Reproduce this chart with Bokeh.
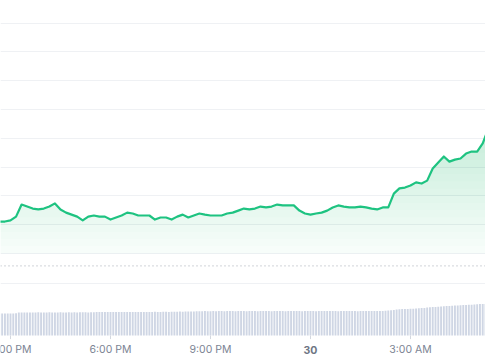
import numpy as np
from bokeh.plotting import figure
from bokeh.models import Range1d, Grid, FixedTicker, Span, ColumnDataSource
from bokeh.core.properties import value
from bokeh.embed import file_html
from bokeh.resources import INLINE

# ---------------- data ----------------
# price samples every 10 minutes, starting 14:40 on the 29th (hours since 29th 00:00)
price_start_h = 14 + 40 / 60
price_step_h = 10 / 60
price = [
    61.11, 61.11, 61.15, 61.28, 61.70, 61.63, 61.56, 61.53, 61.56, 61.63,
    61.74, 61.53, 61.42, 61.35, 61.28, 61.15, 61.28, 61.32, 61.28, 61.28,
    61.18, 61.25, 61.32, 61.42, 61.39, 61.32, 61.32, 61.32, 61.18, 61.25,
    61.25, 61.18, 61.28, 61.35, 61.25, 61.32, 61.39, 61.35, 61.32, 61.32,
    61.32, 61.39, 61.42, 61.49, 61.56, 61.53, 61.56, 61.63, 61.60, 61.63,
    61.70, 61.67, 61.67, 61.67, 61.49, 61.39, 61.35, 61.39, 61.42, 61.49,
    61.60, 61.67, 61.63, 61.60, 61.60, 61.63, 61.60, 61.56, 61.53, 61.60,
    61.60, 62.08, 62.26, 62.29, 62.36, 62.47, 62.43, 62.53, 62.95, 63.16,
    63.37, 63.19, 63.26, 63.30, 63.47, 63.54, 63.54, 63.82, 64.34,
]

# volume samples every 5 minutes, same start (billions)
vol_step_h = 5 / 60
volume = [
    1.10, 1.10, 1.10, 1.10, 1.10, 1.10, 1.11, 1.15, 1.15, 1.15, 1.15, 1.15,
    1.15, 1.15, 1.16, 1.15, 1.15, 1.15, 1.16, 1.15, 1.15, 1.15, 1.16, 1.15,
    1.15, 1.16, 1.15, 1.16, 1.15, 1.16, 1.16, 1.16, 1.15, 1.16, 1.16, 1.17,
    1.17, 1.17, 1.18, 1.17, 1.17, 1.18, 1.17, 1.18, 1.18, 1.17, 1.18, 1.18,
    1.18, 1.17, 1.18, 1.18, 1.18, 1.17, 1.18, 1.18, 1.19, 1.18, 1.18, 1.19,
    1.19, 1.18, 1.19, 1.19, 1.19, 1.20, 1.19, 1.20, 1.20, 1.20, 1.20, 1.21,
    1.21, 1.21, 1.22, 1.21, 1.21, 1.22, 1.21, 1.22, 1.22, 1.21, 1.22, 1.22,
    1.22, 1.21, 1.22, 1.22, 1.22, 1.21, 1.22, 1.22, 1.22, 1.21, 1.22, 1.22,
    1.22, 1.22, 1.21, 1.22, 1.22, 1.22, 1.22, 1.21, 1.22, 1.22, 1.22, 1.22,
    1.22, 1.21, 1.22, 1.22, 1.22, 1.22, 1.21, 1.22, 1.22, 1.22, 1.22, 1.22,
    1.22, 1.22, 1.21, 1.22, 1.22, 1.22, 1.22, 1.22, 1.22, 1.21, 1.22, 1.22,
    1.22, 1.22, 1.22, 1.22, 1.23, 1.23, 1.23, 1.24, 1.25, 1.26, 1.28, 1.30,
    1.31, 1.32, 1.33, 1.33, 1.34, 1.34, 1.35, 1.36, 1.37, 1.38, 1.40, 1.41,
    1.42, 1.43, 1.44, 1.45, 1.46, 1.47, 1.48, 1.49, 1.50, 1.50, 1.51, 1.52,
    1.53, 1.54, 1.54, 1.55, 1.56, 1.57, 1.57, 1.58, 1.59,
]

tick_hours = [15, 18, 21, 24, 27]
tick_labels = ["3:00 PM", "6:00 PM", "9:00 PM", "30", "3:00 AM"]
price_grid = [60, 61, 62, 63, 64, 65, 66, 67, 68]
price_base = 60.0
ref_price = 59.57
vol_grid = [2.6]

# ---------------- figure ----------------
W, H = 485, 360
t_price = price_start_h + price_step_h * np.arange(len(price))
t_vol = price_start_h + vol_step_h * np.arange(len(volume))
pr = np.array(price)

p = figure(width=W, height=H, output_backend="svg", toolbar_location=None,
           x_axis_location=None, y_axis_location=None,
           x_range=Range1d(14.7, 29.25), y_range=Range1d(56.285, 68.785),
           min_border=0, min_border_left=0, min_border_right=0,
           min_border_top=0, min_border_bottom=0)
p.outline_line_color = None
p.background_fill_color = "white"
p.border_fill_color = "white"
p.xgrid.visible = False
p.ygrid.visible = False
p.extra_y_ranges = {"vol": Range1d(-1.25, 16.75)}

grid_color = "#eff1f4"
p.add_layout(Grid(dimension=1, ticker=FixedTicker(ticks=price_grid),
                  grid_line_color=grid_color, grid_line_width=1))
p.add_layout(Grid(dimension=1, ticker=FixedTicker(ticks=vol_grid), y_range_name="vol",
                  grid_line_color=grid_color, grid_line_width=1))

# gradient-like fill under the line
green = "#1ccf7f"
p.varea(x=t_price, y1=price_base, y2=pr, fill_color=green, fill_alpha=0.035)
for lo in np.arange(60.25, 64.6, 0.25):
    p.varea(x=t_price, y1=np.minimum(pr, lo), y2=pr, fill_color=green, fill_alpha=0.011)

p.line(t_price, pr, line_color="#1ec381", line_width=2.2, line_join="round")

p.add_layout(Span(location=ref_price, dimension="width", line_color="#a3a9b4",
                  line_width=1, line_dash="1 3"))

# volume bars
p.vbar(x=t_vol, top=volume, bottom=0, width=vol_step_h * 0.68,
       fill_color="#cfd6e4", line_color=None, y_range_name="vol")

# x ticks and labels
p.segment(x0=tick_hours, y0=0, x1=tick_hours, y1=-0.18, y_range_name="vol",
          line_color="#d4d8df", line_width=1)
src = ColumnDataSource(dict(x=tick_hours, y=[-0.7] * len(tick_hours), t=tick_labels,
                            w=["bold" if s == "30" else "normal" for s in tick_labels],
                            c=["#6f7684" if s == "30" else "#7c8494" for s in tick_labels]))
p.text(x="x", y="y", text="t", source=src, y_range_name="vol",
       text_font=value("Inter"), text_font_size="10.5px", text_font_style="w",
       text_color="c", text_align="center", text_baseline="middle")

open("out.html", "w").write(file_html(p, INLINE))
